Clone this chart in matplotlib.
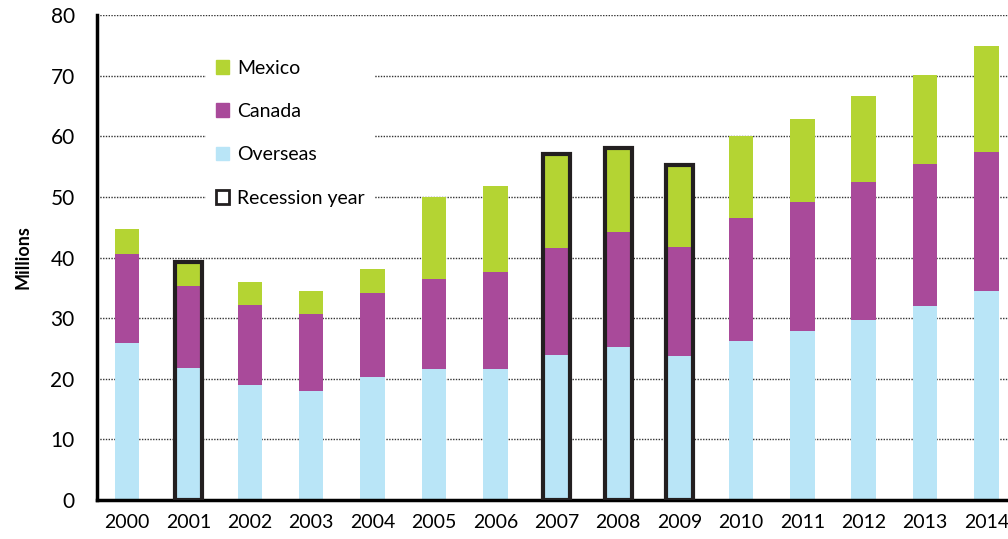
import matplotlib.pyplot as plt
import matplotlib.patches as mpatches
import numpy as np

years = ['2000', '2001', '2002', '2003', '2004', '2005', '2006', '2007',
         '2008', '2009', '2010', '2011', '2012', '2013', '2014']
overseas = [25.9, 21.8, 19.0, 18.0, 20.3, 21.6, 21.6, 23.9, 25.2, 23.8,
            26.2, 27.9, 29.7, 32.0, 34.5]
canada = [14.7, 13.5, 13.2, 12.7, 13.9, 14.9, 16.0, 17.7, 19.0, 17.9,
          20.3, 21.3, 22.8, 23.4, 22.9]
mexico = [4.1, 4.0, 3.8, 3.8, 3.9, 13.5, 14.2, 15.5, 13.9, 13.6,
          13.6, 13.7, 14.2, 14.7, 17.5]
recession = ['2001', '2007', '2008', '2009']

c_over = '#b9e5f7'
c_can = '#a94a9a'
c_mex = '#b4d433'

plt.rcParams['font.family'] = ['Lato', 'DejaVu Sans']

fig = plt.figure(figsize=(10.08, 5.39), dpi=100)
ax = fig.add_axes([0.0962, 0.0724, 0.9038, 0.8996])

x = np.arange(len(years))
w = 0.4
over = np.array(overseas)
can = np.array(canada)
mex = np.array(mexico)

ax.bar(x, over, w, color=c_over, zorder=2)
ax.bar(x, can, w, bottom=over, color=c_can, zorder=2)
ax.bar(x, mex, w, bottom=over + can, color=c_mex, zorder=2)

# outline the recession years around the whole stack
total = over + can + mex
for i, yr in enumerate(years):
    if yr in recession:
        ax.bar(x[i], total[i], w + 0.04, fill=False, edgecolor='#231f20',
               linewidth=3, zorder=3)

ax.set_ylim(0, 80)
ax.set_xlim(-0.49, 14.35)
ax.set_yticks(range(0, 81, 10))
ax.set_xticks(x)
ax.set_xticklabels(years)
ax.tick_params(length=0, labelsize=14, pad=10)
ax.tick_params(axis='y', pad=16, labelsize=15)
ax.yaxis.grid(True, linestyle=(0, (1, 1)), color='#333333', linewidth=1, zorder=0)
ax.set_axisbelow(True)

for s in ['top', 'right']:
    ax.spines[s].set_visible(False)
ax.spines['left'].set_linewidth(2.5)
ax.spines['bottom'].set_linewidth(2.5)

ax.set_ylabel('Millions', fontsize=13, fontweight='bold', labelpad=14)

handles = [mpatches.Patch(color=c_mex, label='Mexico'),
           mpatches.Patch(color=c_can, label='Canada'),
           mpatches.Patch(color=c_over, label='Overseas'),
           mpatches.Patch(facecolor='white', edgecolor='#231f20', linewidth=2,
                          label='Recession year')]
leg = ax.legend(handles=handles, loc='upper left', bbox_to_anchor=(0.109, 0.948),
                fontsize=14, frameon=True, framealpha=1, edgecolor='none',
                handlelength=0.7, handleheight=0.7, handletextpad=0.4,
                labelspacing=1.35, borderpad=0.5, fancybox=False)
leg.set_zorder(5)

fig.savefig('out.png', dpi=100)
